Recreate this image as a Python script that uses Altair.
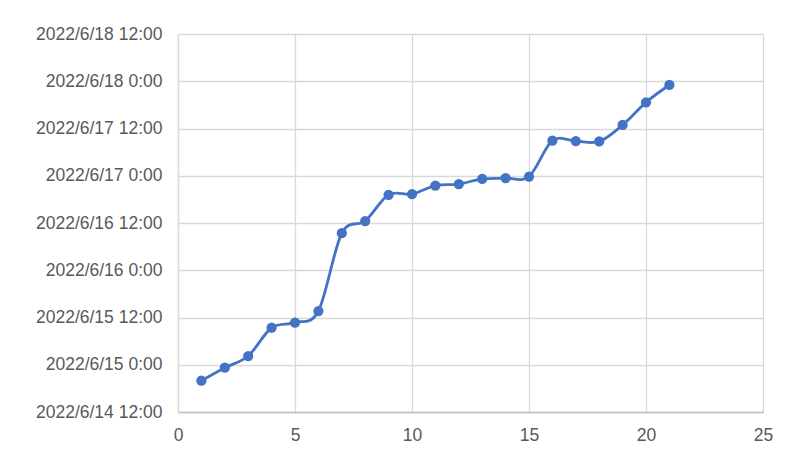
import altair as alt
import pandas as pd

x_vals = list(range(1, 22))
times = [
    "2022-06-14T19:57:00Z", "2022-06-14T23:15:00Z", "2022-06-15T02:13:00Z",
    "2022-06-15T09:24:00Z", "2022-06-15T10:42:00Z", "2022-06-15T13:39:00Z",
    "2022-06-16T09:24:00Z", "2022-06-16T12:30:00Z", "2022-06-16T19:10:00Z",
    "2022-06-16T19:20:00Z", "2022-06-16T21:30:00Z", "2022-06-16T21:54:00Z",
    "2022-06-16T23:12:00Z", "2022-06-16T23:24:00Z", "2022-06-16T23:48:00Z",
    "2022-06-17T08:54:00Z", "2022-06-17T08:48:00Z", "2022-06-17T08:42:00Z",
    "2022-06-17T12:54:00Z", "2022-06-17T18:39:00Z", "2022-06-17T23:03:00Z",
]
x_ticks = [0, 5, 10, 15, 20, 25]
y_tick_days = [(14, 12), (15, 0), (15, 12), (16, 0), (16, 12), (17, 0), (17, 12), (18, 0), (18, 12)]

df = pd.DataFrame({"x": x_vals, "t": times})

y_values = [alt.DateTime(year=2022, month=6, date=d, hours=h, utc=True) for d, h in y_tick_days]

x_enc = alt.X("x:Q", scale=alt.Scale(domain=[0, 25], nice=False),
              axis=alt.Axis(values=x_ticks, title=None, ticks=False, labelPadding=14,
                            labelFlush=False,
                            domainColor="#BFBFBF", gridColor="#D9D9D9"))
y_enc = alt.Y("t:T",
              scale=alt.Scale(type="utc", domain=[alt.DateTime(year=2022, month=6, date=14, hours=12, utc=True),
                                                 alt.DateTime(year=2022, month=6, date=18, hours=12, utc=True)],
                              nice=False),
              axis=alt.Axis(values=y_values, title=None, ticks=False, labelPadding=16,
                            labelFlush=False,
                            labelExpr="utcFormat(datum.value, '%Y/%-m/%-d %-H:%M')",
                            domainColor="#D9D9D9", gridColor="#D9D9D9"))

base = alt.Chart(df).encode(x=x_enc, y=y_enc, order=alt.Order("x:Q"))
line = base.mark_line(interpolate="cardinal", color="#4472C4", strokeWidth=2.8)
pts = base.mark_circle(size=105, color="#4472C4", opacity=1)

chart = (line + pts).properties(
    width=585, height=378,
    autosize=alt.AutoSizeParams(type="none"),
    padding={"left": 170, "top": 26, "right": 16, "bottom": 32},
    background="white",
).configure_axis(
    labelFont="Liberation Sans", labelFontSize=17.5, labelColor="#595959",
    grid=True, gridWidth=1.3, domainWidth=1.3,
).configure_view(stroke=None)

chart.save("out.html", embed_options={"renderer": "svg", "actions": False})
